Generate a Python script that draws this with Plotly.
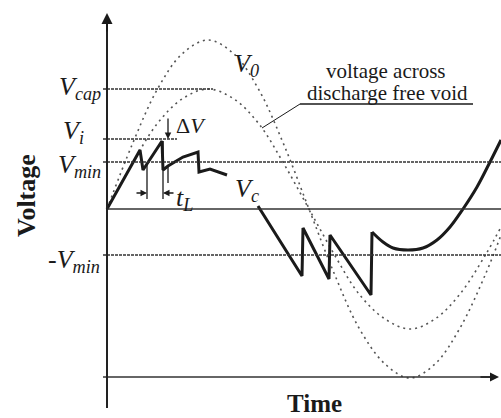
import plotly.graph_objects as go

# ---- data (time and voltage in arbitrary units) ----
t_curve = [0, 25, 50, 75, 101, 127, 152, 177, 202, 227, 252, 278, 303, 328, 353, 379, 394]
v_applied = [0, 64, 119, 155, 169, 155, 119, 64, 0, -64, -119, -155, -169, -155, -119, -64, -26]
v_void = [0, 45, 85, 110, 120, 110, 85, 45, 0, -45, -85, -110, -120, -110, -85, -45, -18]

vc1_t = [0, 33, 36, 55, 56, 61, 76, 91, 92, 103, 120]
vc1_v = [0, 59, 39, 68, 39, 43, 52, 57, 37, 40, 34]
vc2_t = [151, 195, 196, 222, 223, 264, 265]
vc2_v = [3, -67, -19, -70, -26, -86, -23]
vc3_t = [265, 276, 286, 301, 316, 330, 343, 356, 370, 383, 394]
vc3_v = [-23, -33, -39, -41, -39, -31, -18, 0, 22, 47, 69]

level_labels = ["V<sub>cap</sub>", "V<sub>i</sub>", "V<sub>min</sub>", "-V<sub>min</sub>"]
level_values = [120, 70, 47, -46]
level_ends = [106, 70, 394, 394]
label_pos_t = [-4, -21, -4, -5]
label_pos_v = [121, 77, 43, -52]

t_min, t_max = -107, 394
v_min, v_max = -209, 209
axis_bottom, axis_top = -199, 196
time_axis_v = -168
time_axis_end = 392

INK = "#1a1a1a"
DOT = "#555555"
SERIF = "Liberation Serif"

fig = go.Figure()

# applied voltage and discharge-free void voltage (dotted)
fig.add_trace(go.Scatter(x=t_curve, y=v_applied, mode="lines",
                         line=dict(color=DOT, width=1.6, dash="2px,4px", shape="spline")))
fig.add_trace(go.Scatter(x=t_curve, y=v_void, mode="lines",
                         line=dict(color=DOT, width=1.6, dash="2px,4px", shape="spline")))

# void voltage Vc
for tx, vy, shp in [(vc1_t, vc1_v, "linear"), (vc2_t, vc2_v, "linear"), (vc3_t, vc3_v, "spline")]:
    fig.add_trace(go.Scatter(x=tx, y=vy, mode="lines",
                             line=dict(color=INK, width=3, shape=shp)))

shapes = []
# level lines
for val, end in zip(level_values, level_ends):
    shapes.append(dict(type="line", xref="x", yref="y", x0=-4, x1=end, y0=val, y1=val,
                       line=dict(color="#333333", width=1.4, dash="3px,1px")))
# zero line
shapes.append(dict(type="line", xref="x", yref="y", x0=0, x1=t_max, y0=0, y1=0,
                   line=dict(color="#333333", width=1.6)))
# time axis
shapes.append(dict(type="line", xref="x", yref="y", x0=-4, x1=time_axis_end - 4,
                   y0=time_axis_v, y1=time_axis_v, line=dict(color="#333333", width=1.5)))
# voltage axis
shapes.append(dict(type="line", xref="x", yref="y", x0=0, x1=0, y0=axis_bottom, y1=axis_top - 6,
                   line=dict(color="#222222", width=2)))
# t_L marker lines
shapes.append(dict(type="line", xref="x", yref="y", x0=40, x1=40, y0=44, y1=10,
                   line=dict(color=INK, width=1.3)))
shapes.append(dict(type="line", xref="x", yref="y", x0=56, x1=56, y0=68, y1=10,
                   line=dict(color=INK, width=1.3)))
# lower Delta V marker
shapes.append(dict(type="line", xref="x", yref="y", x0=61, x1=61, y0=44, y1=26,
                   line=dict(color=INK, width=1.3)))
# leader line + underline
shapes.append(dict(type="line", xref="x", yref="y", x0=155, x1=193, y0=81, y1=105,
                   line=dict(color=INK, width=1)))
shapes.append(dict(type="line", xref="x", yref="y", x0=193, x1=366, y0=105, y1=105,
                   line=dict(color=INK, width=1.3)))

annotations = []

def arrow(x, y, ax, ay, w=1.5, size=1.0):
    annotations.append(dict(x=x, y=y, ax=ax, ay=ay, xref="x", yref="y", axref="x", ayref="y",
                            text="", showarrow=True, arrowhead=2, arrowsize=size,
                            arrowwidth=w, arrowcolor=INK, standoff=0))

arrow(0, axis_top, 0, axis_top - 20, w=2, size=1.1)
arrow(time_axis_end, time_axis_v, time_axis_end - 20, time_axis_v, w=1.5, size=1.2)
arrow(61, 70, 61, 92, w=1.3)
arrow(40, 16, 28, 16, w=1.3)
arrow(56, 16, 68, 16, w=1.3)

def label(text, x, y, size=26, xanchor="center", angle=0, bold=False, italic=True):
    t = text
    if italic:
        t = "<i>" + t + "</i>"
    if bold:
        t = "<b>" + t + "</b>"
    annotations.append(dict(x=x, y=y, xref="x", yref="y", text=t, showarrow=False,
                            xanchor=xanchor, yanchor="middle", textangle=angle,
                            font=dict(family=SERIF, size=size, color=INK)))

for txt, lx, ly in zip(level_labels, label_pos_t, label_pos_v):
    label(txt, lx, ly, xanchor="right")

label("V<sub>0</sub>", 139, 144)
label("V<sub>c</sub>", 140, 19)
label("t<sub>L</sub>", 77, 10)
annotations.append(dict(x=84, y=84, xref="x", yref="y", text="Δ<i>V</i>", showarrow=False,
                        font=dict(family=SERIF, size=22, color=INK)))
label("voltage across", 279, 138, size=21, italic=False)
label("discharge free void", 280, 116, size=21, italic=False)
label("Voltage", -81, 13, size=26, angle=-90, bold=True, italic=False)
label("Time", 207, -194, size=25, bold=True, italic=False)

fig.update_layout(
    width=501, height=418, autosize=False,
    margin=dict(l=0, r=0, t=0, b=0),
    paper_bgcolor="white", plot_bgcolor="white",
    showlegend=False,
    xaxis=dict(range=[t_min, t_max], visible=False, fixedrange=True),
    yaxis=dict(range=[v_min, v_max], visible=False, fixedrange=True),
    shapes=shapes, annotations=annotations,
)

fig.write_html("out.html", config={"displayModeBar": False},
               post_script="document.body.style.margin='0';document.body.style.overflow='hidden';")
